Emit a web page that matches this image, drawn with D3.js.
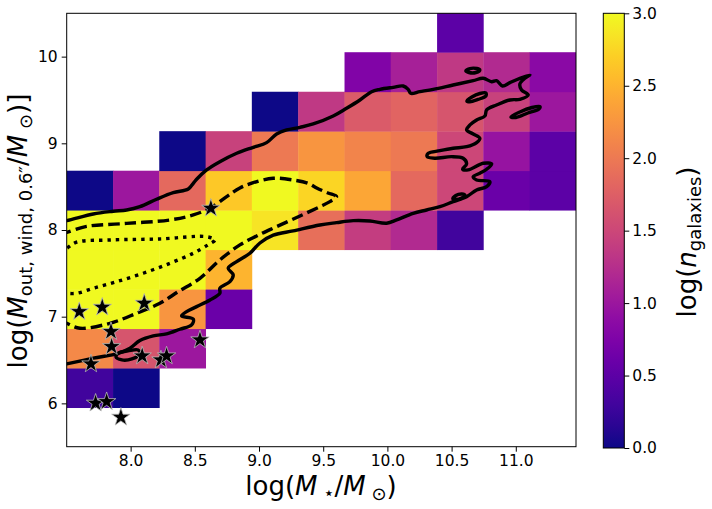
<!DOCTYPE html>
<html>
<head>
<meta charset="utf-8">
<script src="https://cdn.jsdelivr.net/npm/d3@7"></script>
<style>
body { margin: 0; background: #fff; }
text { font-family: "DejaVu Sans", sans-serif; fill: #000; }
</style>
</head>
<body>
<div id="chart"></div>
<script>
var width = 712;
var height = 509;

// histogram bin edges (log M*, log Mout)
var xEdges = [7.502, 7.863, 8.223, 8.584, 8.944, 9.305, 9.666, 10.026, 10.387, 10.747, 11.108, 11.469];
var yEdges = [5.951, 6.407, 6.862, 7.318, 7.773, 8.229, 8.684, 9.140, 9.595, 10.051, 10.506];

// log10(n galaxies) per cell, rows from bottom to top, null = empty
var logCounts = [
    [0.30, 0.00, null, null, null, null, null, null, null, null, null],
    [2.15, 1.65, 1.00, null, null, null, null, null, null, null, null],
    [3.30, 3.20, 2.25, 0.60, null, null, null, null, null, null, null],
    [3.50, 3.40, 3.10, 2.50, null, null, null, null, null, null, null],
    [3.40, 3.50, 3.30, 3.10, 2.85, 1.90, 1.40, 1.20, 0.30, null, null],
    [0.00, 1.00, 1.85, 2.65, 3.05, 2.75, 2.40, 1.85, 1.50, 0.60, 0.50],
    [null, null, 0.00, 1.45, 2.00, 2.25, 2.10, 2.00, 1.50, 0.95, 0.50],
    [null, null, null, null, 0.00, 1.35, 1.70, 1.80, 1.65, 1.45, 1.00],
    [null, null, null, null, null, null, 0.78, 1.10, 1.35, 1.20, 0.85],
    [null, null, null, null, null, null, null, null, 0.50, null, null]
];

// observed galaxies (stars)
var starX = [7.600, 7.779, 8.106, 7.847, 7.852, 7.691, 8.090, 8.236, 8.280, 8.540, 7.727, 7.813, 7.924, 8.625];
var starY = [7.058, 7.109, 7.155, 6.828, 6.655, 6.455, 6.547, 6.501, 6.547, 6.732, 6.002, 6.020, 5.840, 8.251];

var xTicks = [8.0, 8.5, 9.0, 9.5, 10.0, 10.5, 11.0];
var yTicks = [6, 7, 8, 9, 10];
var cbTicks = [0.0, 0.5, 1.0, 1.5, 2.0, 2.5, 3.0];

// density contours (outer = solid, middle = dashed, inner = dotted)
var solidMain = [
    [7.45,8.10],[7.502,8.108],[7.709,8.185],[7.864,8.216],[7.969,8.231],[8.072,8.269],[8.202,8.355],
    [8.332,8.431],[8.449,8.473],[8.488,8.539],[8.514,8.585],[8.592,8.693],[8.695,8.788],[8.826,8.885],
    [8.955,8.954],[9.059,9.008],[9.137,9.108],[9.215,9.154],[9.319,9.185],[9.422,9.223],[9.578,9.315],
    [9.682,9.404],[9.786,9.500],[9.877,9.596],[9.942,9.623],[10.045,9.646],[10.123,9.661],[10.162,9.623],
    [10.181,9.577],[10.253,9.596],[10.357,9.623],[10.512,9.673],[10.668,9.723],[10.746,9.750],
    [10.812,9.711],[10.850,9.723],[10.897,9.661],[10.954,9.700],[11.032,9.750],[11.110,9.788],
    [11.071,9.750],[11.032,9.685],[11.045,9.615],[11.097,9.558],[11.032,9.508],[10.954,9.500],
    [10.850,9.442],[10.773,9.385],[10.759,9.315],[10.695,9.269],[10.643,9.212],[10.617,9.154],
    [10.668,9.108],[10.720,9.058],[10.695,9.008],[10.617,8.961],[10.512,8.943],[10.409,8.915],
    [10.318,8.885],[10.310,8.846],[10.370,8.828],[10.500,8.846],[10.590,8.828],[10.617,8.762],
    [10.586,8.701],[10.629,8.693],[10.746,8.770],[10.812,8.762],[10.773,8.701],[10.720,8.655],
    [10.668,8.615],[10.695,8.577],[10.798,8.558],[10.773,8.500],[10.695,8.462],[10.617,8.385],
    [10.512,8.327],[10.409,8.269],[10.305,8.231],[10.201,8.193],[10.072,8.116],[9.994,8.078],
    [9.864,8.104],[9.734,8.108],[9.604,8.085],[9.474,8.058],[9.266,7.990],[9.111,7.940],[9.007,7.850],
    [8.929,7.732],[8.826,7.635],[8.760,7.559],[8.799,7.482],[8.773,7.404],[8.695,7.328],[8.695,7.270],
    [8.618,7.193],[8.514,7.116],[8.436,7.058],[8.397,7.009],[8.488,6.971],[8.475,6.905],[8.384,6.855],
    [8.280,6.801],[8.176,6.778],[8.072,6.724],[7.995,6.636],[7.903,6.578],[7.709,6.521],[7.502,6.455],
    [7.45,6.44]
];
var solidIslands = [
    [[10.611,9.835],[10.643,9.863],[10.697,9.863],[10.720,9.846],[10.689,9.817],[10.635,9.817]],
    [[10.619,9.488],[10.658,9.535],[10.720,9.575],[10.767,9.581],[10.767,9.546],[10.705,9.506],[10.643,9.479]],
    [[10.962,9.304],[11.032,9.362],[11.126,9.413],[11.188,9.425],[11.180,9.396],[11.094,9.350],[11.001,9.298]],
    [[10.510,8.358],[10.533,8.398],[10.580,8.416],[10.603,8.404],[10.580,8.370],[10.533,8.352]],
    [[7.886,6.536],[7.932,6.501],[8.010,6.513],[8.072,6.570],[8.057,6.617],[7.979,6.605],[7.909,6.582]]
];
var dashedLine = [
    [7.449,7.954],[7.502,7.972],[7.657,8.041],[7.969,8.076],[8.306,8.116],[8.488,8.174],[8.618,8.251],
    [8.748,8.385],[8.851,8.485],[8.955,8.546],[9.111,8.597],[9.266,8.577],[9.383,8.539],[9.449,8.485],
    [9.537,8.427],[9.604,8.385],[9.552,8.327],[9.474,8.269],[9.319,8.162],[9.137,8.039],[8.981,7.931],
    [8.851,7.828],[8.695,7.655],[8.540,7.443],[8.371,7.289],[8.228,7.155],[8.047,7.040],[7.839,6.924],
    [7.605,6.867],[7.502,6.924],[7.449,6.962]
];
var dottedLine = [
    [7.449,7.747],[7.502,7.789],[7.579,7.859],[7.839,7.885],[8.228,7.897],[8.592,7.923],[8.657,7.885],
    [8.602,7.828],[8.488,7.732],[8.306,7.616],[8.098,7.501],[7.891,7.404],[7.709,7.328],[7.579,7.270],
    [7.502,7.270],[7.449,7.285]
];

var plot = { left: 66.7, right: 576, top: 13.3, bottom: 446.7 };
var cb = { left: 603.3, right: 624.3, top: 13.3, bottom: 448 };

var x = d3.scaleLinear().domain([7.502, 11.469]).range([plot.left, plot.right]);
var y = d3.scaleLinear().domain([5.5, 10.5]).range([plot.bottom, plot.top]);
var color = d3.scaleSequential(d3.interpolatePlasma).domain([0, 3]).clamp(true);

var svg = d3.select("#chart").append("svg")
    .attr("width", width).attr("height", height);

svg.append("clipPath").attr("id", "clip")
    .append("rect")
    .attr("x", plot.left).attr("y", plot.top)
    .attr("width", plot.right - plot.left).attr("height", plot.bottom - plot.top);

var cells = [];
logCounts.forEach(function(row, i) {
    row.forEach(function(v, j) {
        if (v !== null) cells.push({ i: i, j: j, v: v });
    });
});

var g = svg.append("g").attr("clip-path", "url(#clip)");

g.selectAll("rect.cell").data(cells).enter().append("rect")
    .attr("class", "cell")
    .attr("x", function(d) { return x(xEdges[d.j]); })
    .attr("y", function(d) { return y(yEdges[d.i + 1]); })
    .attr("width", function(d) { return x(xEdges[d.j + 1]) - x(xEdges[d.j]) + 0.4; })
    .attr("height", function(d) { return y(yEdges[d.i]) - y(yEdges[d.i + 1]) + 0.4; })
    .attr("fill", function(d) { return color(d.v); });

var line = d3.line()
    .x(function(d) { return x(d[0]); })
    .y(function(d) { return y(d[1]); })
    .curve(d3.curveCatmullRom.alpha(0.5));
var closedLine = d3.line()
    .x(function(d) { return x(d[0]); })
    .y(function(d) { return y(d[1]); })
    .curve(d3.curveCatmullRomClosed.alpha(0.5));

function contour(path, gen, dash) {
    g.append("path")
        .attr("d", gen(path))
        .attr("fill", "none")
        .attr("stroke", "#000")
        .attr("stroke-width", 3.4)
        .attr("stroke-linejoin", "round")
        .attr("stroke-dasharray", dash);
}
contour(solidMain, line, null);
solidIslands.forEach(function(p) { contour(p, closedLine, null); });
contour(dashedLine, line, "11.5,5");
contour(dottedLine, line, "3.4,5");

var star = d3.symbol().type(d3.symbolStar).size(105);
g.selectAll("path.star").data(starX).enter().append("path")
    .attr("class", "star")
    .attr("d", star)
    .attr("transform", function(d, i) { return "translate(" + x(starX[i]) + "," + y(starY[i]) + ")"; })
    .attr("fill", "#000")
    .attr("stroke", "#bbb")
    .attr("stroke-width", 0.8);

// frame
svg.append("rect")
    .attr("x", plot.left).attr("y", plot.top)
    .attr("width", plot.right - plot.left).attr("height", plot.bottom - plot.top)
    .attr("fill", "none").attr("stroke", "#000").attr("stroke-width", 1);

var xAxis = svg.append("g")
    .attr("transform", "translate(0," + plot.bottom + ")")
    .call(d3.axisBottom(x).tickValues(xTicks).tickFormat(d3.format(".1f"))
        .tickSize(5).tickPadding(3).tickSizeOuter(0));
var yAxis = svg.append("g")
    .attr("transform", "translate(" + plot.left + ",0)")
    .call(d3.axisLeft(y).tickValues(yTicks).tickFormat(d3.format("d"))
        .tickSize(5).tickPadding(4).tickSizeOuter(0));
[xAxis, yAxis].forEach(function(a) {
    a.select(".domain").remove();
    a.selectAll("text").attr("font-size", 15.5).attr("font-family", "DejaVu Sans");
});

// colorbar
var grad = svg.append("defs").append("linearGradient")
    .attr("id", "cbgrad").attr("x1", 0).attr("y1", 1).attr("x2", 0).attr("y2", 0);
d3.range(0, 1.0001, 0.05).forEach(function(t) {
    grad.append("stop").attr("offset", t).attr("stop-color", d3.interpolatePlasma(t));
});
svg.append("rect")
    .attr("x", cb.left).attr("y", cb.top)
    .attr("width", cb.right - cb.left).attr("height", cb.bottom - cb.top)
    .attr("fill", "url(#cbgrad)").attr("stroke", "#000").attr("stroke-width", 1);
var cy = d3.scaleLinear().domain([0, 3]).range([cb.bottom, cb.top]);
var cAxis = svg.append("g")
    .attr("transform", "translate(" + cb.right + ",0)")
    .call(d3.axisRight(cy).tickValues(cbTicks).tickFormat(d3.format(".1f"))
        .tickSize(5).tickPadding(3).tickSizeOuter(0));
cAxis.select(".domain").remove();
cAxis.selectAll("text").attr("font-size", 15.5).attr("font-family", "DejaVu Sans");

// axis labels
var xl = svg.append("text").attr("x", 321).attr("y", 495)
    .attr("text-anchor", "middle").attr("font-size", 26);
xl.append("tspan").text("log(");
xl.append("tspan").attr("font-style", "italic").text("M");
xl.append("tspan").attr("font-size", 18).attr("dy", 4).text(" \u22c6");
xl.append("tspan").attr("dy", -4).text("/");
xl.append("tspan").attr("font-style", "italic").text("M");
xl.append("tspan").attr("font-size", 18).attr("dy", 5).text(" \u2299");
xl.append("tspan").attr("dy", -5).text(")");

var yl = svg.append("text")
    .attr("transform", "translate(27,231) rotate(-90)")
    .attr("text-anchor", "middle").attr("font-size", 26);
yl.append("tspan").text("log(");
yl.append("tspan").attr("font-style", "italic").text("M");
yl.append("tspan").attr("font-size", 18).attr("dy", 5).text("out, wind, 0.6\u2033");
yl.append("tspan").attr("dy", -5).text("/");
yl.append("tspan").attr("font-style", "italic").text("M");
yl.append("tspan").attr("font-size", 18).attr("dy", 5).text(" \u2299");
yl.append("tspan").attr("dy", -5).text(")]");

var cl = svg.append("text")
    .attr("transform", "translate(696,242) rotate(-90)")
    .attr("text-anchor", "middle").attr("font-size", 26);
cl.append("tspan").text("log(");
cl.append("tspan").attr("font-style", "italic").text("n");
cl.append("tspan").attr("font-size", 18).attr("dy", 5).text("galaxies");
cl.append("tspan").attr("dy", -5).text(")");
</script>
</body>
</html>
